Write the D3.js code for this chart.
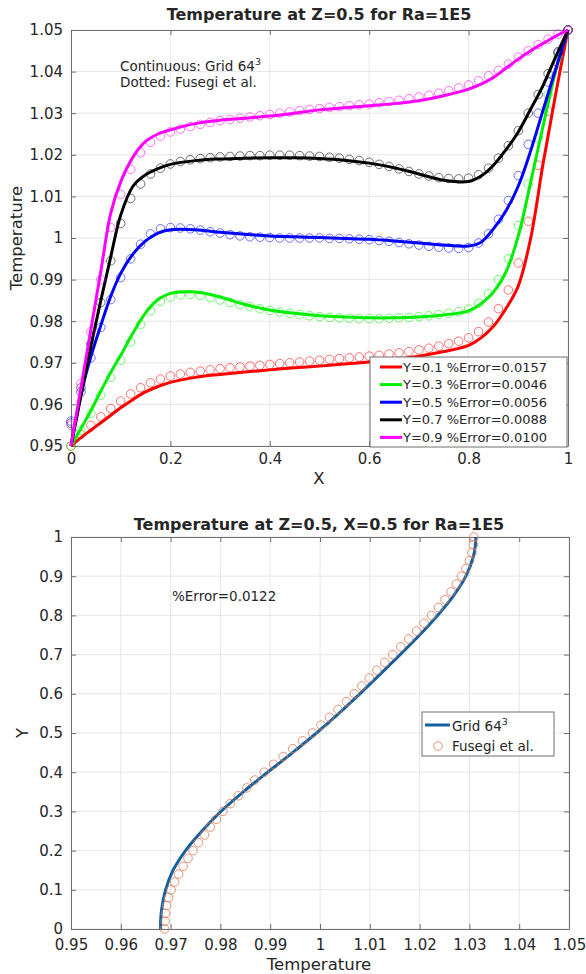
<!DOCTYPE html>
<html lang="en">
<head>
<meta charset="UTF-8">
<title>Temperature at Z=0.5 for Ra=1E5</title>
<script src="https://d3js.org/d3.v7.min.js"></script>
<style>
  body { margin: 0; background: #fff; }
  svg text { font-family: "DejaVu Sans", sans-serif; fill: #262626; }
</style>
</head>
<body>
<div id="chart"></div>
<script>
// ---- top panel: T(X) at Z=0.5, five Y levels ----
const lineX = [0, 0.02, 0.04, 0.06, 0.08, 0.1, 0.125, 0.15, 0.175, 0.2, 0.25, 0.3, 0.35, 0.4, 0.45, 0.5,
  0.55, 0.6, 0.65, 0.7, 0.75, 0.8, 0.825, 0.85, 0.875, 0.9, 0.925, 0.95, 0.975, 1];

const gridY01 = [0.9500, 0.9520, 0.9538, 0.9556, 0.9574, 0.9592, 0.9612, 0.9630, 0.9643, 0.9653, 0.9665, 0.9672, 0.9678, 0.9683, 0.9688,
  0.9692, 0.9697, 0.9702, 0.9708, 0.9716, 0.9727, 0.9742, 0.9760, 0.9788, 0.9830, 0.9885, 1.0000, 1.0180, 1.0345, 1.0500];
const gridY03 = [0.9500, 0.9542, 0.9585, 0.9632, 0.9677, 0.9718, 0.9772, 0.9820, 0.9852, 0.9867, 0.9870, 0.9858, 0.9840, 0.9827, 0.9819,
  0.9813, 0.9810, 0.9808, 0.9808, 0.9810, 0.9815, 0.9825, 0.9842, 0.9870, 0.9918, 1.0005, 1.0135, 1.0270, 1.0400, 1.0500];
const gridY05 = [0.9500, 0.9625, 0.9715, 0.9790, 0.9860, 0.9915, 0.9962, 0.9993, 1.0012, 1.0020, 1.0020, 1.0014, 1.0009, 1.0005, 1.0003,
  1.0001, 0.9999, 0.9997, 0.9993, 0.9988, 0.9983, 0.9981, 0.9990, 1.0022, 1.0065, 1.0125, 1.0210, 1.0308, 1.0405, 1.0500];
const gridY07 = [0.9500, 0.9620, 0.9740, 0.9850, 0.9955, 1.0055, 1.0125, 1.0152, 1.0167, 1.0177, 1.0186, 1.0190, 1.0192, 1.0193, 1.0193,
  1.0191, 1.0187, 1.0180, 1.0169, 1.0154, 1.0139, 1.0136, 1.0149, 1.0175, 1.0212, 1.0255, 1.0310, 1.0367, 1.0435, 1.0500];
const gridY09 = [0.9500, 0.9640, 0.9780, 0.9920, 1.0060, 1.0135, 1.0195, 1.0232, 1.0250, 1.0260, 1.0275, 1.0283, 1.0288, 1.0293, 1.0300,
  1.0308, 1.0313, 1.0318, 1.0323, 1.0330, 1.0342, 1.0358, 1.0370, 1.0386, 1.0408, 1.0430, 1.0450, 1.0468, 1.0485, 1.0500];

// Fusegi et al. reference points
const markerX = [0, 0.02, 0.04, 0.06, 0.08, 0.1, 0.12, 0.14, 0.16, 0.18, 0.2, 0.22, 0.24, 0.26, 0.28, 0.3, 0.32, 0.34, 0.36, 0.38,
  0.4, 0.42, 0.44, 0.46, 0.48, 0.5, 0.52, 0.54, 0.56, 0.58, 0.6, 0.62, 0.64, 0.66, 0.68, 0.7, 0.72, 0.74, 0.76, 0.78,
  0.8, 0.82, 0.84, 0.86, 0.88, 0.9, 0.92, 0.94, 0.96, 0.98, 1];

const fusegiY01 = [0.9500, 0.9528, 0.9550, 0.9570, 0.9590, 0.9608, 0.9625, 0.9640, 0.9652, 0.9661,
  0.9668, 0.9673, 0.9677, 0.9680, 0.9683, 0.9686, 0.9688, 0.9690, 0.9692, 0.9694,
  0.9696, 0.9698, 0.9700, 0.9702, 0.9704, 0.9706, 0.9708, 0.9710, 0.9712, 0.9714,
  0.9716, 0.9718, 0.9721, 0.9724, 0.9727, 0.9731, 0.9735, 0.9740, 0.9746, 0.9752,
  0.9760, 0.9775, 0.9798, 0.9830, 0.9875, 0.9940, 1.0040, 1.0175, 1.0305, 1.0420, 1.0500];
const fusegiY03 = [0.9500, 0.9538, 0.9578, 0.9622, 0.9665, 0.9706, 0.9750, 0.9792, 0.9825, 0.9848,
  0.9858, 0.9863, 0.9864, 0.9862, 0.9857, 0.9851, 0.9845, 0.9840, 0.9835, 0.9830,
  0.9826, 0.9822, 0.9819, 0.9816, 0.9813, 0.9811, 0.9809, 0.9808, 0.9807, 0.9806,
  0.9806, 0.9806, 0.9807, 0.9808, 0.9809, 0.9811, 0.9813, 0.9816, 0.9819, 0.9823,
  0.9829, 0.9843, 0.9866, 0.9900, 0.9950, 1.0030, 1.0130, 1.0240, 1.0345, 1.0435, 1.0500];
const fusegiY05 = [0.9560, 0.9630, 0.9712, 0.9785, 0.9852, 0.9905, 0.9950, 0.9985, 1.0010, 1.0022,
  1.0025, 1.0024, 1.0022, 1.0019, 1.0015, 1.0012, 1.0008, 1.0005, 1.0003, 1.0002,
  1.0001, 1.0000, 1.0000, 1.0000, 1.0000, 1.0000, 0.9999, 0.9999, 0.9998, 0.9997,
  0.9996, 0.9994, 0.9992, 0.9989, 0.9986, 0.9983, 0.9980, 0.9978, 0.9976, 0.9975,
  0.9977, 0.9988, 1.0010, 1.0045, 1.0090, 1.0150, 1.0225, 1.0300, 1.0375, 1.0445, 1.0500];
const fusegiY07 = [0.9555, 0.9640, 0.9745, 0.9845, 0.9945, 1.0035, 1.0095, 1.0130, 1.0154, 1.0168,
  1.0178, 1.0184, 1.0188, 1.0191, 1.0193, 1.0195, 1.0196, 1.0197, 1.0198, 1.0198,
  1.0199, 1.0199, 1.0199, 1.0198, 1.0197, 1.0196, 1.0194, 1.0192, 1.0189, 1.0186,
  1.0182, 1.0177, 1.0172, 1.0166, 1.0160, 1.0154, 1.0149, 1.0145, 1.0143, 1.0142,
  1.0144, 1.0152, 1.0168, 1.0192, 1.0222, 1.0258, 1.0300, 1.0345, 1.0395, 1.0448, 1.0500];
const fusegiY09 = [0.9550, 0.9650, 0.9775, 0.9900, 1.0025, 1.0105, 1.0165, 1.0205, 1.0230, 1.0245,
  1.0255, 1.0262, 1.0268, 1.0273, 1.0278, 1.0282, 1.0285, 1.0288, 1.0291, 1.0294,
  1.0297, 1.0300, 1.0303, 1.0306, 1.0309, 1.0311, 1.0314, 1.0316, 1.0318, 1.0320,
  1.0322, 1.0325, 1.0328, 1.0331, 1.0335, 1.0339, 1.0343, 1.0348, 1.0354, 1.0361,
  1.0368, 1.0378, 1.0390, 1.0403, 1.0418, 1.0435, 1.0450, 1.0465, 1.0478, 1.0490, 1.0500];

const seriesLabels = ["Y=0.1 %Error=0.0157", "Y=0.3 %Error=0.0046", "Y=0.5 %Error=0.0056",
  "Y=0.7 %Error=0.0088", "Y=0.9 %Error=0.0100"];
const topXTicks = [0, 0.2, 0.4, 0.6, 0.8, 1];
const topYTicks = [0.95, 0.96, 0.97, 0.98, 0.99, 1, 1.01, 1.02, 1.03, 1.04, 1.05];

// ---- bottom panel: T(Y) at Z=0.5, X=0.5 ----
const profileY = [0, 0.02, 0.05, 0.1, 0.15, 0.2, 0.25, 0.3, 0.35, 0.4, 0.45, 0.5, 0.55, 0.6, 0.65, 0.7,
  0.75, 0.8, 0.85, 0.9, 0.95, 0.98, 1];
const profileT = [0.9680, 0.9680, 0.9682, 0.9690, 0.9705, 0.9730, 0.9763, 0.9801, 0.9846, 0.9895, 0.9945, 0.9993,
  1.0038, 1.0080, 1.0121, 1.0161, 1.0200, 1.0236, 1.0268, 1.0293, 1.0308, 1.0312, 1.0313];
const fusegiY = markerX; // same 0..1 step as above
const fusegiT = [0.9688, 0.9689, 0.9690, 0.9692, 0.9696, 0.9701, 0.9708, 0.9716, 0.9725, 0.9735,
  0.9745, 0.9756, 0.9768, 0.9780, 0.9792, 0.9805, 0.9820, 0.9836, 0.9853, 0.9869,
  0.9888, 0.9907, 0.9926, 0.9945, 0.9965, 0.9985, 1.0002, 1.0019, 1.0036, 1.0053,
  1.0069, 1.0084, 1.0099, 1.0114, 1.0130, 1.0146, 1.0162, 1.0178, 1.0194, 1.0209,
  1.0224, 1.0238, 1.0251, 1.0263, 1.0274, 1.0284, 1.0293, 1.0300, 1.0305, 1.0308, 1.0309];
const botXTicks = [0.95, 0.96, 0.97, 0.98, 0.99, 1, 1.01, 1.02, 1.03, 1.04, 1.05];
const botYTicks = [0, 0.1, 0.2, 0.3, 0.4, 0.5, 0.6, 0.7, 0.8, 0.9, 1];

const colors = ["#ff0000", "#00ee00", "#0000ff", "#000000", "#ff00ff"];
const lineBlue = "#13609f";
const circleOrange = "#e07a55";

const width = 586, height = 974;
const svg = d3.select("#chart").append("svg")
  .attr("width", width).attr("height", height);

const fmt = d => String(+d.toFixed(2));

function frame(x, y, xTicks, yTicks, xPad) {
  const [x0, x1] = x.range();
  const [y0, y1] = y.range();
  const g = svg.append("g");
  g.append("g").selectAll("line").data(xTicks).join("line")
    .attr("x1", d => x(d)).attr("x2", d => x(d)).attr("y1", y1).attr("y2", y0)
    .attr("stroke", "#e6e6e6");
  g.append("g").selectAll("line").data(yTicks).join("line")
    .attr("x1", x0).attr("x2", x1).attr("y1", d => y(d)).attr("y2", d => y(d))
    .attr("stroke", "#e6e6e6");

  const style = a => {
    a.selectAll(".domain, .tick line").attr("stroke", "#6f6f6f");
    a.selectAll("text").attr("font-size", 15).attr("font-family", "DejaVu Sans").attr("fill", "#262626");
  };
  g.append("g").attr("transform", `translate(0,${y0})`)
    .call(d3.axisBottom(x).tickValues(xTicks).tickSizeInner(-5).tickSizeOuter(0).tickPadding(xPad).tickFormat(fmt))
    .call(style);
  g.append("g").attr("transform", `translate(0,${y1})`)
    .call(d3.axisTop(x).tickValues(xTicks).tickSizeInner(-5).tickSizeOuter(0).tickFormat(""))
    .call(style);
  g.append("g").attr("transform", `translate(${x0},0)`)
    .call(d3.axisLeft(y).tickValues(yTicks).tickSizeInner(-5).tickSizeOuter(0).tickPadding(8).tickFormat(fmt))
    .call(style);
  g.append("g").attr("transform", `translate(${x1},0)`)
    .call(d3.axisRight(y).tickValues(yTicks).tickSizeInner(-5).tickSizeOuter(0).tickFormat(""))
    .call(style);
  return g;
}

function superText(sel, base, sup) {
  sel.append("tspan").text(base);
  sel.append("tspan").attr("dy", -6).attr("font-size", "0.7em").text(sup);
}

// ================= top chart =================
const xTop = d3.scaleLinear().domain([0, 1]).range([71, 568]);
const yTop = d3.scaleLinear().domain([0.95, 1.05]).range([446, 30]);
frame(xTop, yTop, topXTicks, topYTicks, 7);

const lineTop = d3.line()
  .x(d => xTop(d[0])).y(d => yTop(d[1]))
  .curve(d3.curveCatmullRom.alpha(0.5));

const gridSeries = [gridY01, gridY03, gridY05, gridY07, gridY09];
const fusegiSeries = [fusegiY01, fusegiY03, fusegiY05, fusegiY07, fusegiY09];

gridSeries.forEach((vals, i) => {
  svg.append("g").selectAll("circle")
    .data(markerX.map((v, j) => [v, fusegiSeries[i][j]]))
    .join("circle")
    .attr("cx", d => xTop(d[0])).attr("cy", d => yTop(d[1])).attr("r", 4.3)
    .attr("fill", "none").attr("stroke", colors[i]).attr("stroke-opacity", 0.55).attr("stroke-width", 1);
  svg.append("path")
    .datum(lineX.map((v, j) => [v, vals[j]]))
    .attr("d", lineTop)
    .attr("fill", "none").attr("stroke", colors[i]).attr("stroke-width", 3);
});

svg.append("text").attr("x", 319).attr("y", 20).attr("text-anchor", "middle")
  .attr("font-size", 16).attr("font-weight", "bold").attr("fill", "#000")
  .text("Temperature at Z=0.5 for Ra=1E5");
svg.append("text").attr("x", 319).attr("y", 484).attr("text-anchor", "middle")
  .attr("font-size", 16.5).text("X");
svg.append("text").attr("transform", "translate(22,238) rotate(-90)").attr("text-anchor", "middle")
  .attr("font-size", 16.5).text("Temperature");

svg.append("text").attr("x", 120).attr("y", 71).attr("font-size", 13.5)
  .call(superText, "Continuous: Grid 64", "3");
svg.append("text").attr("x", 120).attr("y", 87).attr("font-size", 13.5)
  .text("Dotted: Fusegi et al.");

// legend top
const legTop = svg.append("g");
legTop.append("rect").attr("x", 370).attr("y", 357).attr("width", 197).attr("height", 90)
  .attr("fill", "#fff").attr("stroke", "#6f6f6f");
seriesLabels.forEach((lab, i) => {
  const cy = 367 + i * 17.6;
  legTop.append("line").attr("x1", 380).attr("x2", 402).attr("y1", cy).attr("y2", cy)
    .attr("stroke", colors[i]).attr("stroke-width", 3);
  legTop.append("text").attr("x", 403).attr("y", cy).attr("dy", "0.35em")
    .attr("font-size", 13).text(lab);
});

// ================= bottom chart =================
const xBot = d3.scaleLinear().domain([0.95, 1.05]).range([71, 569]);
const yBot = d3.scaleLinear().domain([0, 1]).range([929, 537]);
frame(xBot, yBot, botXTicks, botYTicks, 10);

const lineBot = d3.line()
  .x(d => xBot(d[0])).y(d => yBot(d[1]))
  .curve(d3.curveCatmullRom.alpha(0.5));

svg.append("path")
  .datum(profileY.map((v, j) => [profileT[j], v]))
  .attr("d", lineBot)
  .attr("fill", "none").attr("stroke", lineBlue).attr("stroke-width", 3);

svg.append("g").selectAll("circle")
  .data(fusegiY.map((v, j) => [fusegiT[j], v]))
  .join("circle")
  .attr("cx", d => xBot(d[0])).attr("cy", d => yBot(d[1])).attr("r", 4.3)
  .attr("fill", "none").attr("stroke", circleOrange).attr("stroke-opacity", 0.8).attr("stroke-width", 1);

svg.append("text").attr("x", 319).attr("y", 530).attr("text-anchor", "middle")
  .attr("font-size", 16).attr("font-weight", "bold").attr("fill", "#000")
  .text("Temperature at Z=0.5, X=0.5 for Ra=1E5");
svg.append("text").attr("x", 319).attr("y", 970).attr("text-anchor", "middle")
  .attr("font-size", 16.5).text("Temperature");
svg.append("text").attr("transform", "translate(28,733) rotate(-90)").attr("text-anchor", "middle")
  .attr("font-size", 16.5).text("Y");
svg.append("text").attr("x", 172).attr("y", 601).attr("font-size", 13.5).text("%Error=0.0122");

// legend bottom
const legBot = svg.append("g");
legBot.append("rect").attr("x", 422).attr("y", 712).attr("width", 132).attr("height", 44)
  .attr("fill", "#fff").attr("stroke", "#6f6f6f");
legBot.append("line").attr("x1", 425).attr("x2", 450).attr("y1", 725).attr("y2", 725)
  .attr("stroke", lineBlue).attr("stroke-width", 3);
legBot.append("text").attr("x", 452).attr("y", 726).attr("dy", "0.35em").attr("font-size", 13.5)
  .call(superText, "Grid 64", "3");
legBot.append("circle").attr("cx", 438).attr("cy", 746).attr("r", 4.3)
  .attr("fill", "none").attr("stroke", circleOrange).attr("stroke-opacity", 0.8);
legBot.append("text").attr("x", 452).attr("y", 746).attr("dy", "0.35em").attr("font-size", 13.5)
  .text("Fusegi et al.");
</script>
</body>
</html>
